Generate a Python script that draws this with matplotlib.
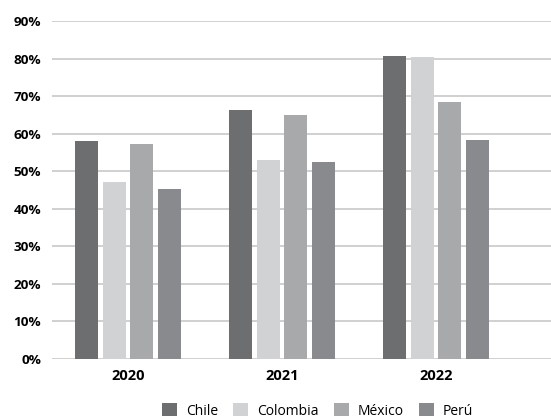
import numpy as np
import matplotlib.pyplot as plt
from matplotlib.ticker import FuncFormatter

plt.rcParams['font.family'] = ['Open Sans', 'DejaVu Sans']

# datos (en %)
anios = ['2020', '2021', '2022']
paises = ['Chile', 'Colombia', 'México', 'Perú']
chile    = [58.0, 66.3, 80.7]
colombia = [47.1, 53.0, 80.4]
mexico   = [57.2, 65.0, 68.4]
peru     = [45.3, 52.4, 58.3]
series = [chile, colombia, mexico, peru]
colores = ['#6d6e70', '#d1d2d4', '#a7a9ab', '#898a8e']

fig = plt.figure(figsize=(5.51, 4.18), dpi=100)
ax = fig.add_axes([52/551, 59/418, 1 - 52/551, (359 - 21)/418])

x = np.arange(len(anios))
ancho = 0.149
paso = 0.18
for i, (vals, col) in enumerate(zip(series, colores)):
    ax.bar(x + (i - 1.5)*paso, vals, ancho, color=col, label=paises[i], zorder=3)

ax.set_ylim(0, 90)
ax.set_yticks(np.arange(0, 91, 10))
ax.yaxis.set_major_formatter(FuncFormatter(lambda v, p: '%d%%' % v))
ax.set_xlim(-0.494, 2.747)
ax.set_xticks(x)
ax.set_xticklabels(anios)

ax.grid(axis='y', color='#c8c8c8', linewidth=1.2, zorder=0)
for s in ax.spines.values():
    s.set_visible(False)
ax.tick_params(axis='both', length=0)
ax.tick_params(axis='y', pad=8, labelsize=9.7)
ax.tick_params(axis='x', pad=7, labelsize=10.5)
for t in ax.get_xticklabels() + ax.get_yticklabels():
    t.set_fontweight('bold')

fig.legend(loc='center', bbox_to_anchor=(0.576, 0.017), ncol=4, frameon=False,
           fontsize=10, handlelength=1.08, handleheight=1.08,
           handletextpad=0.65, columnspacing=1.08, borderpad=0)

plt.savefig('out.png', dpi=100)
